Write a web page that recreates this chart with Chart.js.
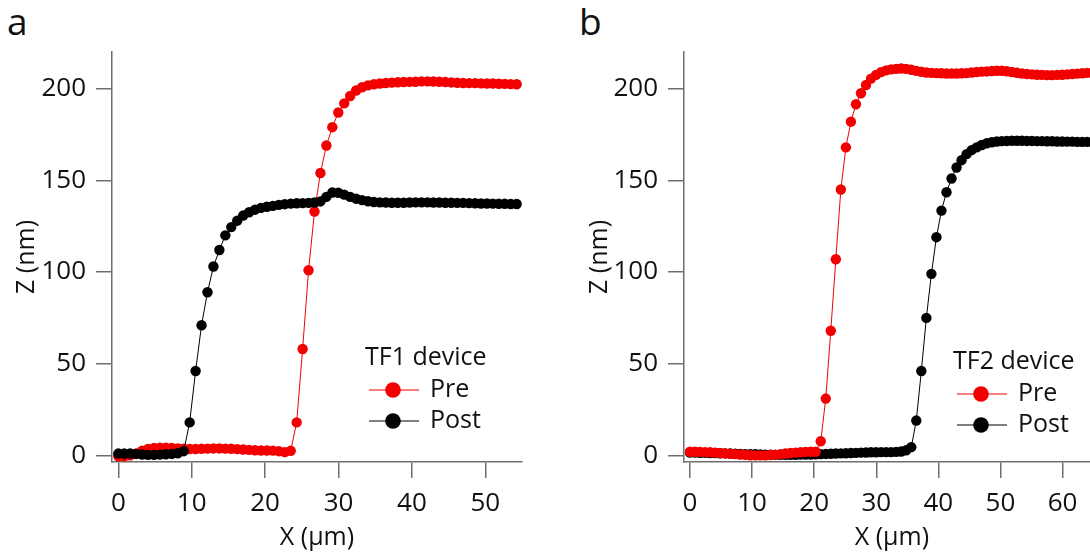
<!DOCTYPE html>
<html>
<head>
<meta charset="utf-8">
<script src="https://cdn.jsdelivr.net/npm/chart.js@4.4.1/dist/chart.umd.min.js"></script>
<style>
  html, body { margin: 0; padding: 0; background: #fff; overflow: hidden; }
  body { width: 1090px; height: 556px; position: relative; }
  canvas { position: absolute; top: 0; }
  #chartA { left: 0; }
  #chartB { left: 545px; }
  .panel-tag { position: absolute; top: 2px; font: 37px "Open Sans", sans-serif; line-height: 1; color: #111; }
</style>
</head>
<body>
<div class="panel-tag" style="left:7px">a</div>
<div class="panel-tag" style="left:579px">b</div>
<canvas id="chartA" width="545" height="556"></canvas>
<canvas id="chartB" width="560" height="556"></canvas>
<script>
// scan positions (um), shared by both profiles
const xGrid = [
    0, 0.81, 1.62, 2.43, 3.24, 4.05, 4.86, 5.67, 6.48, 7.29,
    8.10, 8.91, 9.72, 10.53, 11.34, 12.15, 12.96, 13.77, 14.58, 15.39,
    16.20, 17.01, 17.82, 18.63, 19.44, 20.25, 21.06, 21.87, 22.68, 23.49,
    24.30, 25.11, 25.92, 26.73, 27.54, 28.35, 29.16, 29.97, 30.78, 31.59,
    32.40, 33.21, 34.02, 34.83, 35.64, 36.45, 37.26, 38.07, 38.88, 39.69,
    40.50, 41.31, 42.12, 42.93, 43.74, 44.55, 45.36, 46.17, 46.98, 47.79,
    48.60, 49.41, 50.22, 51.03, 51.84, 52.65, 53.46, 54.27, 55.08, 55.89,
    56.70, 57.51, 58.32, 59.13, 59.94, 60.75, 61.56, 62.37, 63.18, 63.99,
    64.80
];

// TF1 device (nm)
const preA = [
    -0.5, -0.5, 0, 1, 2.5, 3.5, 4, 4.2, 4.2, 4,
    3.8, 3.6, 3.5, 3.5, 3.6, 3.7, 3.8, 3.8, 3.7, 3.6,
    3.4, 3.2, 3, 2.8, 2.7, 2.7, 2.6, 2.3, 1.8, 2.5,
    18, 58, 101, 133, 154, 169, 179, 187, 192, 196,
    199, 200.8, 201.8, 202.4, 202.8, 203.1, 203.3, 203.5, 203.6, 203.7,
    203.8, 204, 204, 203.9, 203.8, 203.6, 203.4, 203.2, 203.1, 203,
    203, 202.9, 202.8, 202.8, 202.7, 202.6, 202.5, 202.4
];
const postA = [
    1, 1, 1, 0.8, 0.5, 0.3, 0.3, 0.4, 0.6, 0.8,
    1.2, 2.3, 18, 46, 71, 89, 103, 112, 120, 124.5,
    128, 130.8, 132.6, 134, 135, 135.6, 136.1, 136.6, 137, 137.3,
    137.5, 137.6, 137.7, 137.9, 138.5, 141, 143.4, 143.2, 142.2, 141,
    140, 139.2, 138.6, 138.2, 138, 137.9, 137.8, 137.8, 137.8, 137.9,
    138, 138, 138, 137.9, 137.9, 137.8, 137.8, 137.7, 137.7, 137.6,
    137.5, 137.4, 137.4, 137.3, 137.2, 137.2, 137.1, 137.1
];

// TF2 device (nm)
const preB = [
    2, 2, 1.9, 1.8, 1.7, 1.5, 1.3, 1.1, 0.9, 0.7,
    0.5, 0.3, 0.1, 0, 0, 0, 0.2, 0.4, 0.7, 1,
    1.3, 1.5, 1.7, 1.9, 2, 2, 7.7, 31, 68, 107,
    145, 168, 182, 191.5, 197.5, 202, 205.5, 207.5, 209, 210,
    210.5, 210.8, 211, 210.8, 210.3, 209.7, 209.2, 208.8, 208.6, 208.5,
    208.4, 208.3, 208.3, 208.3, 208.4, 208.5, 208.8, 209.1, 209.3, 209.4,
    209.6, 209.8, 209.8, 209.5, 209.1, 208.7, 208.3, 208, 207.8, 207.6,
    207.5, 207.4, 207.4, 207.5, 207.6, 207.8, 208, 208.2, 208.4, 208.6,
    208.7
];
const postB = [
    1.5, 1.5, 1.4, 1.4, 1.3, 1.3, 1.2, 1.1, 1, 0.9,
    0.8, 0.7, 0.6, 0.6, 0.5, 0.4, 0.4, 0.3, 0.3, 0.3,
    0.3, 0.3, 0.4, 0.4, 0.5, 0.6, 0.7, 0.8, 0.9, 1,
    1.1, 1.2, 1.3, 1.4, 1.5, 1.6, 1.7, 1.7, 1.8, 1.8,
    1.8, 1.9, 2.1, 2.8, 4.5, 19, 46, 75, 99, 119,
    133.5, 143.5, 151, 157, 161, 164.3, 166.5, 168, 169.3, 170.2,
    170.8, 171.2, 171.4, 171.5, 171.6, 171.6, 171.6, 171.5, 171.5, 171.4,
    171.4, 171.3, 171.3, 171.2, 171.2, 171.1, 171.1, 171, 171, 171,
    170.9
];

const yTicks = [0, 50, 100, 150, 200];
const xTicksA = [0, 10, 20, 30, 40, 50];
const xTicksB = [0, 10, 20, 30, 40, 50, 60];

const RED = '#f20000';
const BLACK = '#000000';
const INK = '#111111';
const AXIS = '#6f6f6f';

Chart.defaults.font.family = '"Open Sans", sans-serif';

const toPoints = ys => ys.map((y, i) => ({ x: xGrid[i], y: y }));

// legend box drawn inside the plot, like the original figure
const deviceLegend = {
    id: 'deviceLegend',
    afterDraw(chart, args, opts) {
        const ctx = chart.ctx;
        ctx.save();
        ctx.textBaseline = 'middle';
        ctx.font = '25px "Open Sans", sans-serif';
        ctx.fillStyle = INK;
        ctx.fillText(opts.title, opts.x - 4, opts.y);
        chart.data.datasets.forEach((ds, i) => {
            const rowY = opts.y + 32 + i * 31;
            ctx.strokeStyle = ds.borderColor;
            ctx.lineWidth = 1;
            ctx.beginPath();
            ctx.moveTo(opts.x, rowY);
            ctx.lineTo(opts.x + 50, rowY);
            ctx.stroke();
            ctx.fillStyle = ds.borderColor;
            ctx.beginPath();
            ctx.arc(opts.x + 24, rowY, 7.8, 0, Math.PI * 2);
            ctx.fill();
            ctx.fillStyle = INK;
            ctx.fillText(ds.label, opts.x + 61, rowY);
        });
        ctx.restore();
    }
};

function makePanel(id, p) {
    const ctx = document.getElementById(id).getContext('2d');
    return new Chart(ctx, {
        type: 'line',
        data: {
            datasets: [{
                label: 'Pre',
                data: toPoints(p.pre),
                borderColor: RED,
                backgroundColor: RED,
                pointBackgroundColor: RED,
                order: p.preOrder,
            }, {
                label: 'Post',
                data: toPoints(p.post),
                borderColor: BLACK,
                backgroundColor: BLACK,
                pointBackgroundColor: BLACK,
                order: p.postOrder,
            }],
        },
        options: {
            responsive: false,
            animation: false,
            events: [],
            layout: { padding: { top: 52, right: p.padRight, left: 0, bottom: 0 } },
            elements: {
                line: { borderWidth: 1, tension: 0 },
                point: { radius: 5.2, borderWidth: 0, hoverRadius: 5.2 },
            },
            plugins: {
                legend: { display: false },
                tooltip: { enabled: false },
                deviceLegend: p.legend,
            },
            scales: {
                x: {
                    type: 'linear',
                    min: p.xMin,
                    max: p.xMax,
                    afterFit: s => { s.height = 94; },
                    afterBuildTicks: s => { s.ticks = p.xTicks.map(v => ({ value: v })); },
                    grid: { drawOnChartArea: false, tickLength: 16, color: AXIS, lineWidth: 1.5 },
                    border: { color: AXIS, width: 1.5 },
                    ticks: { padding: 10, autoSkip: false, maxRotation: 0, color: INK, font: { size: 26 } },
                    title: { display: true, text: 'X (μm)', color: INK, font: { size: 25 }, padding: { top: 0, bottom: 3 } },
                },
                y: {
                    min: -3.6,
                    max: 220,
                    afterFit: s => { s.width = p.yWidth; },
                    afterBuildTicks: s => { s.ticks = yTicks.map(v => ({ value: v })); },
                    grid: { drawOnChartArea: false, tickLength: 16, color: AXIS, lineWidth: 1.5 },
                    border: { color: AXIS, width: 1.5 },
                    ticks: { padding: 10, autoSkip: false, color: INK, font: { size: 26 } },
                    title: { display: true, text: 'Z (nm)', color: INK, font: { size: 25 }, padding: { top: p.yTitlePad, bottom: 0 } },
                },
            },
        },
        plugins: [deviceLegend],
    });
}

makePanel('chartA', {
    pre: preA, post: postA, preOrder: 1, postOrder: 0,
    xMin: -0.86, xMax: 55, xTicks: xTicksA,
    yWidth: 112, padRight: 23, yTitlePad: 12,
    legend: { title: 'TF1 device', x: 369, y: 358 },
});

makePanel('chartB', {
    pre: preB, post: postB, preOrder: 0, postOrder: 1,
    xMin: -0.96, xMax: 66, xTicks: xTicksB,
    yWidth: 139, padRight: 4.5, yTitlePad: 40,
    legend: { title: 'TF2 device', x: 412, y: 362 },
});
</script>
</body>
</html>
